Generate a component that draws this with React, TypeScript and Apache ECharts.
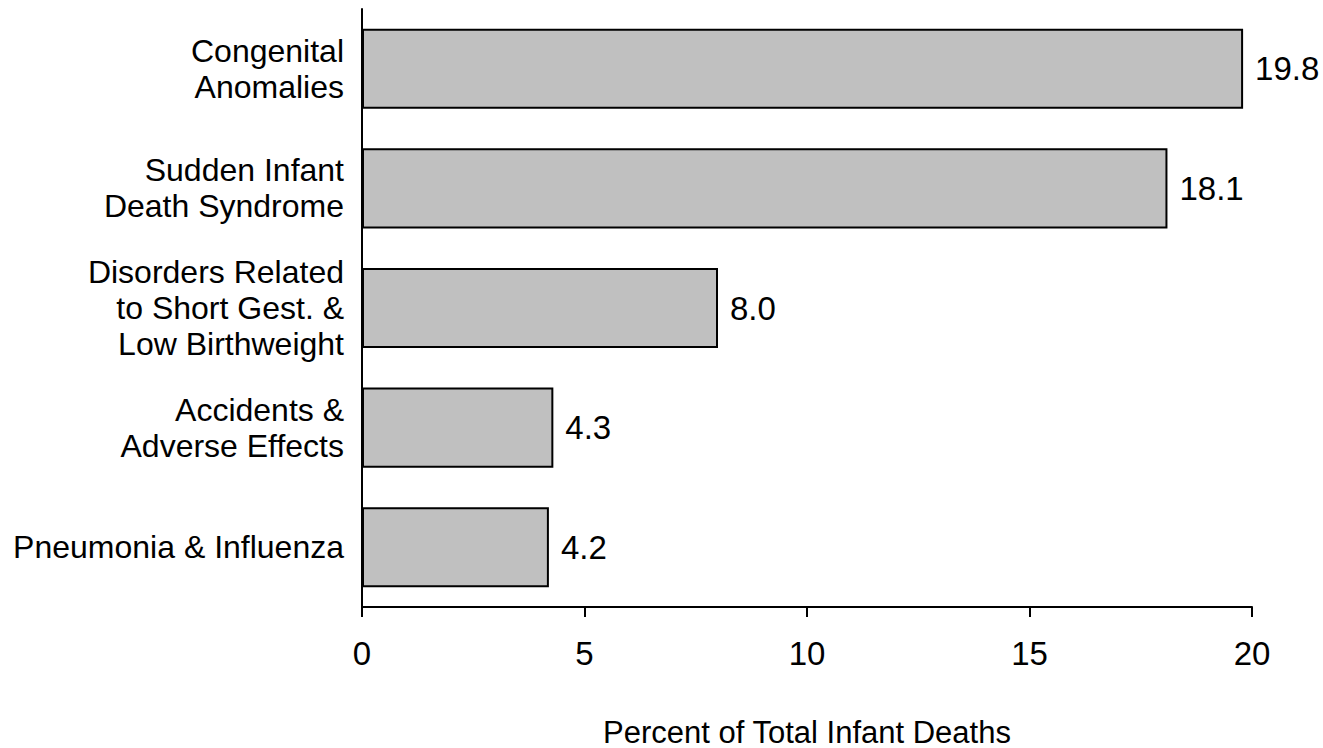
import React, { useEffect, useRef } from "react";
import * as echarts from "echarts";

const categories = [
  "Congenital\nAnomalies",
  "Sudden Infant\nDeath Syndrome",
  "Disorders Related\nto Short Gest. &\nLow Birthweight",
  "Accidents &\nAdverse Effects",
  "Pneumonia & Influenza",
];
const values = [19.8, 18.1, 8.0, 4.3, 4.2];
const xTicks = [0, 5, 10, 15, 20];
const xTitle = "Percent of Total Infant Deaths";

const FONT = "'Liberation Sans', Arial, Helvetica, sans-serif";

export default function App() {
  const ref = useRef<HTMLDivElement>(null);
  useEffect(() => {
    if (!ref.current) return;
    const chart = echarts.init(ref.current, null, { renderer: "svg" });
    chart.setOption({
      animation: false,
      backgroundColor: "#ffffff",
      grid: {
        left: 362,
        right: 71,
        top: 9,
        bottom: 141,
        containLabel: false,
        outerBoundsMode: "none",
      },
      xAxis: {
        type: "value",
        min: xTicks[0],
        max: xTicks[xTicks.length - 1],
        interval: 5,
        splitLine: { show: false },
        axisLine: { show: true, lineStyle: { color: "#000", width: 2 } },
        axisTick: { show: true, length: 10, lineStyle: { color: "#000", width: 2 } },
        axisLabel: { color: "#000", fontSize: 33, fontFamily: FONT, margin: 30 },
        name: xTitle,
        nameLocation: "middle",
        nameGap: 110,
        nameTextStyle: { color: "#000", fontSize: 31, lineHeight: 30, fontFamily: FONT },
      },
      yAxis: {
        type: "category",
        data: categories,
        inverse: true,
        axisLine: { show: true, lineStyle: { color: "#000", width: 2 } },
        axisTick: { show: false },
        axisLabel: {
          color: "#000",
          fontSize: 32,
          fontFamily: FONT,
          margin: 18,
          lineHeight: 36,
          align: "right",
        },
      },
      series: [
        {
          type: "bar",
          data: values,
          barCategoryGap: "33%",
          itemStyle: { color: "#c0c0c0", borderColor: "#000", borderWidth: 2 },
          label: {
            show: true,
            position: "right",
            distance: 12,
            color: "#000",
            fontSize: 33,
            fontFamily: FONT,
            formatter: (p: any) => Number(p.value).toFixed(1),
          },
        },
      ],
    });
    return () => chart.dispose();
  }, []);
  return <div ref={ref} style={{ width: 1323, height: 748, position: "absolute", left: 0, top: 0 }} />;
}
